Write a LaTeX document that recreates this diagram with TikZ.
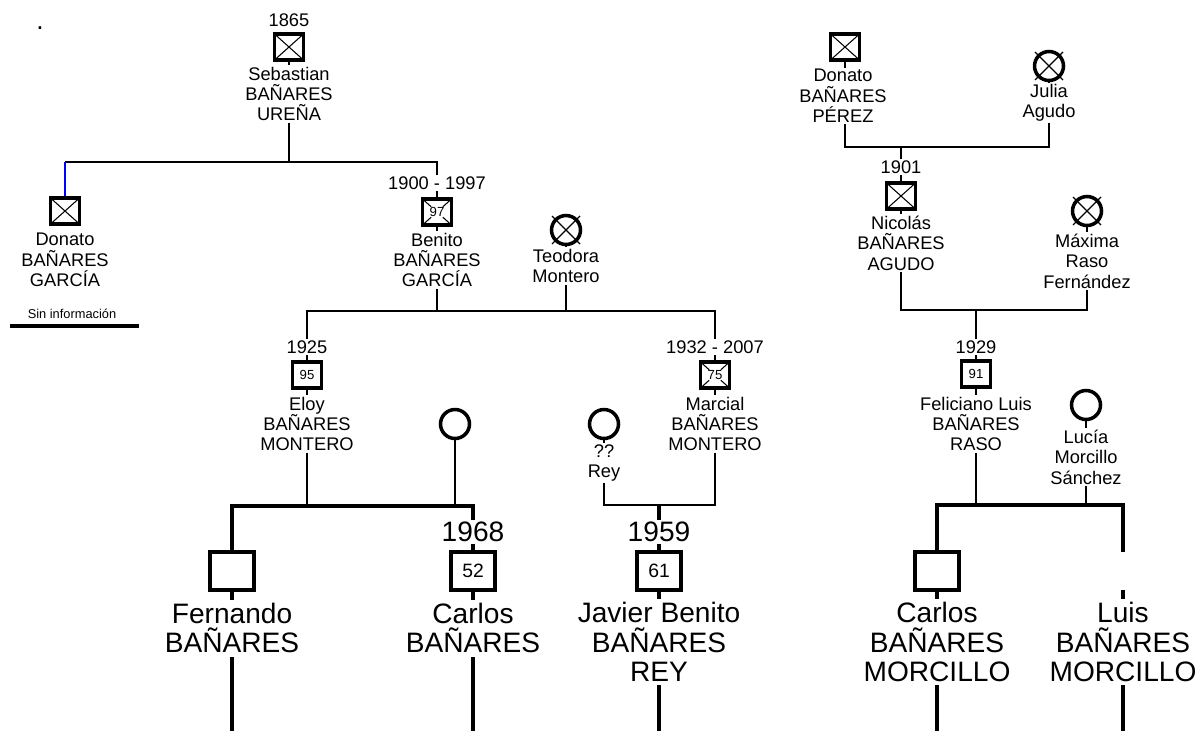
\documentclass[tikz,border=0pt]{standalone}
\usepackage{fontspec}
\setmainfont{Liberation Sans}
\usetikzlibrary{positioning, calc, backgrounds}

\tikzset{
  lbl/.style={align=center, fill=white, inner sep=1pt, font=\fontsize{10.4}{11.6}\selectfont},
  biglbl/.style={align=center, fill=white, inner sep=2pt, font=\fontsize{16}{16.7}\selectfont},
  year/.style={fill=white, inner sep=1pt, font=\fontsize{10.4}{11}\selectfont},
  bigyear/.style={fill=white, inner sep=1pt, font=\fontsize{16}{16}\selectfont},
  man/.style={draw, fill=white, line width=2pt, minimum width=0.58cm, minimum height=0.52cm, inner sep=0pt, font=\fontsize{7.5}{8}\selectfont},
  bigman/.style={man, minimum width=0.88cm, minimum height=0.76cm, font=\fontsize{11}{12}\selectfont},
  blankman/.style={man, draw=none, minimum width=0.88cm, minimum height=0.76cm},
  woman/.style={draw, circle, fill=white, line width=2pt, minimum size=0.58cm, inner sep=0pt},
  dead/.style={path picture={
    \draw[line width=0.6pt] (path picture bounding box.north west) -- (path picture bounding box.south east)
      (path picture bounding box.south west) -- (path picture bounding box.north east);}},
  deadage/.style={path picture={
    \foreach \a/\b in {north west/south east, south east/north west, north east/south west, south west/north east}
      \draw[line width=0.6pt] (path picture bounding box.\a) -- ($(path picture bounding box.\a)!0.3!(path picture bounding box.\b)$);}},
  tie/.style={line width=0.9pt},
  bar/.style={line width=1.9pt},
  gone/.style={line width=0.7pt}
}

\begin{document}
\begin{tikzpicture}[x=0.02cm, y=-0.02cm]
  \useasboundingbox (0,0) rectangle (1202,731);
  \coordinate (bottom) at (0,731);

  % Sebastian and his sons
  \node[inner sep=0pt, font=\fontsize{15}{15}\selectfont] (dot) at (40,28) {.};
  \node[year] (sebY) at (289,20) {1865};
  \node[man, dead] (seb) at (289,47) {};
  \node[lbl] (sebN) at (289,94) {Sebastian\\BAÑARES\\UREÑA};
  \coordinate (sebJ) at (0,162);

  \node[man, dead] (donL) at (65,211) {};
  \node[lbl] (donLN) at (65,260) {Donato\\BAÑARES\\GARCÍA};
  \node[inner sep=1pt, font=\fontsize{7.3}{8}\selectfont] (sinf) at (72,314) {Sin información};
  \draw[bar] (10,326) -- (139,326);

  \node[year] (benY) at (437,183) {1900 - 1997};
  \node[man, deadage] (ben) at (437,212) {97};
  \node[lbl] (benN) at (437,260) {Benito\\BAÑARES\\GARCÍA};

  \node[woman] (teo) at (566,230) {};
  \node[lbl] (teoN) at (566,266) {Teodora\\Montero};
  \coordinate (btJ) at (0,311);

  % Eloy and Marcial
  \node[year] (eloY) at (307,347) {1925};
  \node[man] (elo) at (307,375) {95};
  \node[lbl] (eloN) at (307,424) {Eloy\\BAÑARES\\MONTERO};
  \node[woman] (elW) at (455,424) {};
  \coordinate (ewJ) at (0,506);

  \node[year] (marY) at (715,347) {1932 - 2007};
  \node[man, deadage] (mar) at (715,375) {75};
  \node[lbl] (marN) at (715,424) {Marcial\\BAÑARES\\MONTERO};
  \node[woman] (rey) at (604,424) {};
  \node[lbl] (reyN) at (604,463) {??\\Rey};
  \coordinate (mrJ) at (0,505);

  % grandchildren
  \node[bigman] (fer) at (232,571) {};
  \node[biglbl] (ferN) at (232,628) {Fernando\\BAÑARES};

  \node[bigyear] (carY) at (473,532) {1968};
  \node[bigman] (car) at (473,571) {52};
  \node[biglbl] (carN) at (473,628) {Carlos\\BAÑARES};

  \node[bigyear] (javY) at (659,532) {1959};
  \node[bigman] (jav) at (659,571) {61};
  \node[biglbl] (javN) at (659,642) {Javier Benito\\BAÑARES\\REY};

  % Donato, Nicolas, Feliciano
  \node[man, dead] (donR) at (845,47) {};
  \node[lbl] (donRN) at (843,96) {Donato\\BAÑARES\\PÉREZ};
  \node[woman] (jul) at (1049,66) {};
  \node[lbl] (julN) at (1049,103) {Julia\\Agudo};
  \coordinate (djJ) at (0,147);

  \node[year] (nicY) at (901,167) {1901};
  \node[man, dead] (nic) at (901,196) {};
  \node[lbl] (nicN) at (901,243) {Nicolás\\BAÑARES\\AGUDO};
  \node[woman] (max) at (1087,211) {};
  \node[lbl] (maxN) at (1087,261) {Máxima\\Raso\\Fernández};
  \coordinate (nmJ) at (0,310);

  \node[year] (felY) at (976,347) {1929};
  \node[man] (fel) at (976,374) {91};
  \node[lbl] (felN) at (976,424) {Feliciano Luis\\BAÑARES\\RASO};
  \node[woman] (luc) at (1086,405) {};
  \node[lbl] (lucN) at (1086,457) {Lucía\\Morcillo\\Sánchez};
  \coordinate (flJ) at (0,505);

  \node[bigman] (carM) at (937,571) {};
  \node[biglbl] (carMN) at (937,642) {Carlos\\BAÑARES\\MORCILLO};
  \node[blankman] (lui) at (1123,571) {};
  \node[biglbl] (luiN) at (1123,642) {Luis\\BAÑARES\\MORCILLO};

  % crosses on the women
  \foreach \w in {teo, jul, max}
    \draw[gone] ([shift={(-14,-14)}]\w.center) -- ([shift={(14,14)}]\w.center)
      ([shift={(-14,14)}]\w.center) -- ([shift={(14,-14)}]\w.center);

  % family lines
  \begin{scope}[on background layer]
    \draw[tie] (seb) -- (seb |- sebJ);
    \draw[tie] (donL.north |- sebJ) -- (ben |- sebJ) -- (ben);
    \draw[tie, blue] (donL.north |- sebJ) -- (donL.north);

    \draw[tie] (ben) -- (ben |- btJ);
    \draw[tie] (teo) -- (teo |- btJ);
    \draw[tie] (elo) -- (elo |- btJ) -- (mar |- btJ) -- (mar);

    \draw[tie] (elo) -- (elo |- ewJ);
    \draw[tie] (elW) -- (elW |- ewJ);
    \draw[bar] (fer |- bottom) -- (fer |- ewJ) -- (car |- ewJ) -- (car |- bottom);

    \draw[tie] (rey) -- (rey |- mrJ) -- (mar |- mrJ) -- (mar);
    \draw[bar] (jav |- mrJ) -- (jav |- bottom);

    \draw[tie] (donR) -- (donR |- djJ) -- (jul |- djJ) -- (jul);
    \draw[tie] (nic |- djJ) -- (nic);
    \draw[tie] (nic) -- (nic |- nmJ) -- (max |- nmJ) -- (max);
    \draw[tie] (fel |- nmJ) -- (fel);

    \draw[tie] (fel) -- (fel |- flJ);
    \draw[tie] (luc) -- (luc |- flJ);
    \draw[bar] (carM |- bottom) -- (carM |- flJ) -- (lui |- flJ) -- (lui |- bottom);
  \end{scope}
\end{tikzpicture}
\end{document}
